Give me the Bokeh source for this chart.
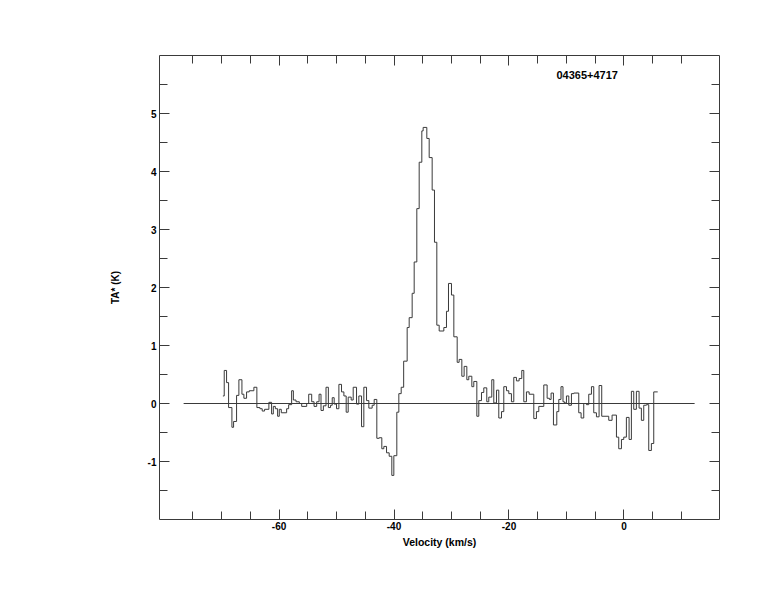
from bokeh.plotting import figure
from bokeh.models import Range1d, LinearAxis, FixedTicker, Label, CustomJSTickFormatter
from bokeh.embed import file_html
from bokeh.resources import INLINE

# Spectrum: left edges (km/s) of runs of equal value, final right edge last
vel_edges = [
    -69.77, -69.54, -69.13, -68.78, -68.20, -67.91, -67.39, -66.99, -66.46, -66.12,
    -65.65, -65.19, -64.38, -63.86, -63.33, -62.93, -62.52, -61.77, -61.30, -61.00,
    -60.65, -60.25, -59.96, -59.61, -58.68, -58.33, -57.81, -57.51, -57.05, -56.47,
    -56.06, -55.19, -54.84, -54.32, -53.91, -53.45, -53.04, -52.70, -52.29, -51.83,
    -51.42, -51.04, -50.75, -50.41, -50.00, -49.59, -49.13, -48.72, -48.32, -47.97,
    -47.45, -47.10, -46.52, -46.12, -45.65, -45.25, -44.78, -44.38, -43.80, -43.45,
    -42.99, -42.58, -42.12, -41.77, -41.30, -40.84, -40.38, -40.03, -39.51, -39.16,
    -38.75, -38.32, -37.71, -37.36, -36.84, -36.49, -36.03, -35.62, -35.16, -34.93,
    -34.29, -33.88, -33.36, -32.96, -32.55, -32.14, -31.33, -30.87, -30.52, -30.00,
    -29.59, -29.01, -28.67, -28.20, -27.80, -27.33, -26.99, -26.46, -26.12, -25.59,
    -25.25, -24.78, -24.38, -23.86, -23.51, -22.99, -22.64, -22.17, -21.77, -21.30,
    -20.90, -20.43, -20.03, -19.57, -19.16, -18.70, -18.23, -17.77, -17.42, -16.96,
    -16.49, -15.68, -15.22, -14.81, -13.94, -13.36, -12.96, -12.67, -12.26, -11.68,
    -11.33, -10.95, -10.60, -10.35, -10.00, -9.59, -9.13, -8.72, -7.86, -7.45,
    -6.99, -6.52, -6.12, -5.65, -5.25, -4.78, -4.32, -3.86, -2.64, -2.06,
    -1.30, -0.90, -0.43, -0.03, 0.43, 0.90, 1.30, 1.71, 2.17, 2.64,
    3.04, 3.45, 3.91, 4.32, 4.78, 5.19, 5.88,
]
ta_k = [
    0.13, 0.57, 0.36, -0.07, -0.41, -0.31, 0.14, 0.41, 0.16, 0.09,
    0.20, 0.22, 0.28, -0.07, -0.09, -0.13, -0.10, 0.02, -0.18, -0.05,
    -0.09, -0.22, -0.10, -0.16, -0.09, -0.02, 0.22, 0.06, 0.03, 0.00,
    -0.05, 0.00, 0.16, 0.03, -0.05, 0.03, 0.16, -0.12, -0.04, 0.28,
    -0.07, -0.03, 0.10, -0.01, -0.09, 0.33, 0.20, 0.13, -0.15, 0.11,
    0.06, 0.28, -0.01, 0.13, -0.40, 0.28, 0.05, -0.08, -0.03, 0.07,
    -0.60, -0.59, -0.78, -0.74, -0.85, -0.91, -1.24, -0.90, -0.15, 0.17,
    0.28, 0.73, 1.31, 1.48, 1.90, 2.44, 3.36, 4.16, 4.70, 4.76,
    4.57, 4.24, 3.68, 2.78, 1.35, 1.25, 1.31, 1.59, 2.07, 1.87,
    1.15, 0.71, 0.76, 0.47, 0.64, 0.41, 0.47, 0.29, 0.38, -0.22,
    0.05, 0.19, 0.27, 0.03, 0.11, 0.41, 0.01, 0.23, -0.25, -0.14,
    0.29, 0.22, 0.17, 0.03, 0.45, 0.39, 0.43, 0.57, 0.03, 0.20,
    0.16, -0.26, -0.14, -0.05, 0.32, 0.09, 0.07, 0.18, -0.37, -0.14,
    0.07, 0.29, 0.03, 0.01, 0.13, -0.03, 0.17, 0.18, -0.16, -0.25,
    0.00, -0.02, 0.16, 0.29, -0.16, -0.23, 0.31, -0.22, -0.29, -0.20,
    -0.58, -0.78, -0.62, -0.58, -0.24, -0.62, 0.21, -0.10, 0.21, -0.08,
    -0.29, -0.03, -0.02, -0.81, -0.69, 0.20,
]
baseline_kms = [-76.6, 12.3]
baseline_ta = [0.0, 0.0]

x_major_ticks = [-60, -40, -20, 0]
x_minor_ticks = [-75, -70, -65, -60, -55, -50, -45, -40, -35, -30, -25, -20, -15, -10, -5, 0, 5, 10]
y_major_ticks = [-1, 0, 1, 2, 3, 4, 5]
y_minor_ticks = [-1.5, -1, -0.5, 0, 0.5, 1, 1.5, 2, 2.5, 3, 3.5, 4, 4.5, 5, 5.5]
source_name = "04365+4717"

INK = "#3a3a3a"
FONT = "Liberation Sans"

p = figure(
    frame_width=560, frame_height=464,
    x_range=Range1d(-80.8, 16.63), y_range=Range1d(-2.0, 6.0),
    output_backend="svg", toolbar_location=None,
    min_border_left=159, min_border_top=55, min_border_right=30, min_border_bottom=70,
    x_axis_label="Velocity (km/s)", y_axis_label="TA* (K)",
)
p.grid.visible = False
p.background_fill_color = "white"
p.border_fill_color = "white"
p.outline_line_color = INK
p.outline_line_width = 1

p.step(x=vel_edges, y=ta_k + [ta_k[-1]], mode="after", line_color=INK, line_width=1)
p.line(x=baseline_kms, y=baseline_ta, line_color=INK, line_width=1)

xt = FixedTicker(ticks=x_major_ticks, minor_ticks=x_minor_ticks)
yt = FixedTicker(ticks=y_major_ticks, minor_ticks=y_minor_ticks)

p.add_layout(LinearAxis(ticker=xt), "above")
p.add_layout(LinearAxis(ticker=yt), "right")

blank = CustomJSTickFormatter(code="return '';")
plain = CustomJSTickFormatter(code="return String(Math.round(tick));")

for ax in p.xaxis:
    ax.ticker = xt
for ax in p.yaxis:
    ax.ticker = yt

for ax in list(p.xaxis) + list(p.yaxis):
    ax.axis_line_color = None
    ax.major_tick_line_color = INK
    ax.minor_tick_line_color = INK
    ax.major_tick_out = 0
    ax.minor_tick_out = 0
    ax.major_tick_in = 10
    ax.minor_tick_in = 8
    ax.major_label_text_font = FONT
    ax.major_label_text_font_style = "bold"
    ax.major_label_text_font_size = "10px"
    ax.major_label_text_color = "black"
    ax.axis_label_text_font = FONT
    ax.axis_label_text_font_style = "bold"
    ax.axis_label_text_color = "black"

p.above[0].formatter = blank
p.right[0].formatter = blank
p.below[0].formatter = plain
p.left[0].formatter = plain

bx = p.below[0]
bx.major_label_standoff = 2
bx.axis_label_standoff = 3
bx.axis_label_text_font_size = "10.5px"

ly = p.left[0]
ly.major_label_standoff = 3
ly.axis_label_standoff = 24
ly.axis_label_text_font_size = "10px"

p.add_layout(Label(x=-11.74, y=5.66, text=source_name, text_font=FONT,
                   text_font_style="bold", text_font_size="11px",
                   text_baseline="alphabetic", text_align="left", text_color="black"))

open("out.html", "w").write(file_html(p, INLINE))
